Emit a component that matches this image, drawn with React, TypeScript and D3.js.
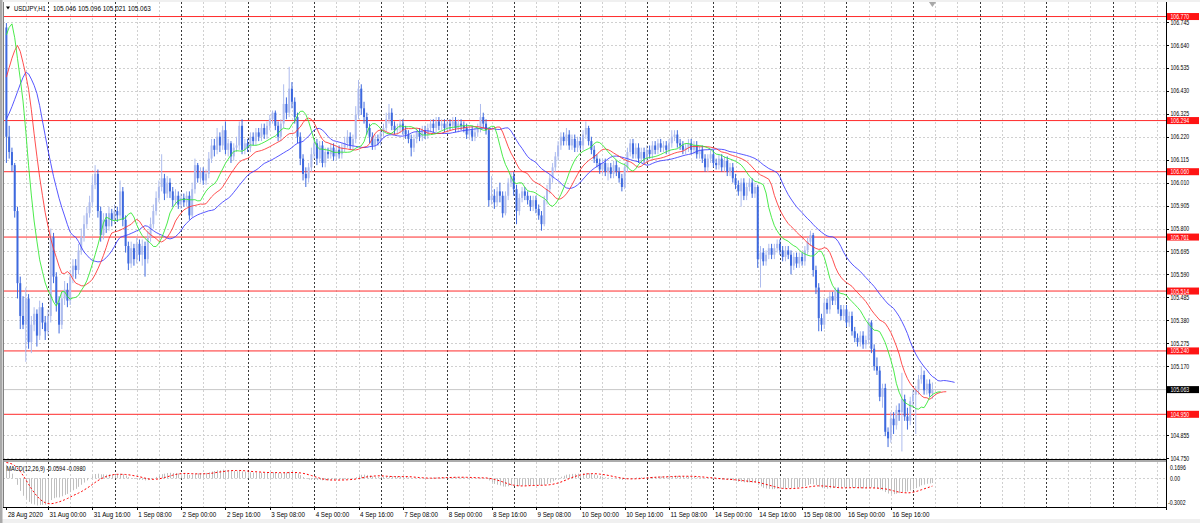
import React from "react";
import * as d3 from "d3";

const symbolTitle = "USDJPY,H1";
const lastQuote = "105.046 105.096 105.021 105.063";
const macdTitle = "MACD(12,26,9) -0.0594 -0.0980";

// H1 bars, first bar 28 Aug 09:00, last bar 17 Sep 07:00
const sessionDays = ["28 Aug", "31 Aug", "1 Sep", "2 Sep", "3 Sep", "4 Sep", "7 Sep", "8 Sep", "9 Sep", "10 Sep", "11 Sep", "14 Sep", "15 Sep", "16 Sep", "17 Sep"];
const firstBarHour = 9;
const firstYear = "2020";

const opens = [
  106.72, 106.22, 106.15, 106.09, 105.88, 105.55, 105.40, 105.36, 105.48, 105.28,
  105.36, 105.41, 105.31, 105.44, 105.37, 105.33, 105.40, 105.76, 105.58, 105.46,
  105.36, 105.48, 105.52, 105.47, 105.58, 105.63, 105.61, 105.70, 105.76, 105.82,
  105.87, 105.92, 106.00, 106.05, 105.88, 105.77, 105.84, 105.81, 105.87, 105.84,
  105.88, 105.86, 105.97, 105.84, 105.72, 105.64, 105.71, 105.66, 105.73, 105.68,
  105.72, 105.66, 105.76, 105.82, 105.88, 105.94, 105.99, 106.03, 105.96, 106.01,
  105.97, 105.93, 105.95, 105.91, 105.94, 105.92, 105.95, 105.86, 105.98, 106.09,
  106.03, 106.06, 106.02, 106.05, 106.12, 106.18, 106.16, 106.22, 106.18, 106.25,
  106.16, 106.19, 106.13, 106.17, 106.18, 106.27, 106.16, 106.19, 106.17, 106.22,
  106.20, 106.24, 106.22, 106.26, 106.23, 106.27, 106.30, 106.33, 106.27, 106.22,
  106.28, 106.37, 106.33, 106.44, 106.38, 106.31, 106.22, 106.12, 106.05, 106.03,
  106.08, 106.14, 106.19, 106.12, 106.18, 106.10, 106.15, 106.14, 106.17, 106.13,
  106.16, 106.14, 106.17, 106.19, 106.22, 106.18, 106.21, 106.32, 106.44, 106.35,
  106.31, 106.26, 106.22, 106.18, 106.21, 106.20, 106.24, 106.26, 106.30, 106.33,
  106.27, 106.25, 106.26, 106.28, 106.25, 106.23, 106.21, 106.17, 106.21, 106.24,
  106.22, 106.25, 106.23, 106.26, 106.28, 106.26, 106.29, 106.27, 106.28, 106.26,
  106.28, 106.27, 106.29, 106.26, 106.28, 106.27, 106.26, 106.23, 106.25, 106.22,
  106.24, 106.26, 106.31, 106.28, 106.25, 105.93, 105.95, 105.92, 105.97, 105.95,
  105.87, 105.95, 106.01, 106.04, 105.98, 105.88, 105.94, 105.97, 105.95, 105.93,
  105.90, 105.93, 105.89, 105.86, 105.82, 105.93, 105.98, 106.03, 106.08, 106.13,
  106.18, 106.22, 106.20, 106.23, 106.18, 106.21, 106.17, 106.20, 106.18, 106.23,
  106.26, 106.20, 106.16, 106.12, 106.10, 106.07, 106.10, 106.06, 106.08, 106.05,
  106.09, 106.06, 106.03, 105.99, 106.08, 106.15, 106.19, 106.14, 106.17, 106.12,
  106.15, 106.12, 106.16, 106.14, 106.18, 106.16, 106.19, 106.17, 106.18, 106.16,
  106.19, 106.22, 106.23, 106.19, 106.18, 106.16, 106.17, 106.19, 106.16, 106.18,
  106.14, 106.16, 106.12, 106.08, 106.12, 106.14, 106.10, 106.09, 106.12, 106.08,
  106.11, 106.06, 106.08, 106.03, 106.00, 105.97, 106.01, 105.95, 105.99, 106.01,
  105.96, 105.99, 105.66, 105.69, 105.65, 105.68, 105.71, 105.68, 105.71, 105.73,
  105.70, 105.67, 105.70, 105.68, 105.63, 105.67, 105.64, 105.67, 105.65, 105.70,
  105.74, 105.77, 105.61, 105.53, 105.39, 105.36, 105.46, 105.43, 105.49, 105.47,
  105.52, 105.43, 105.40, 105.43, 105.37, 105.40, 105.33, 105.30, 105.28, 105.31,
  105.27, 105.29, 105.37, 105.25, 105.17, 105.15, 105.03, 105.07, 104.87, 104.84,
  104.93, 104.90, 104.97, 104.96, 105.02, 104.94, 104.92, 105.01, 105.04, 105.06,
  105.11, 105.13, 105.06, 105.09, 105.046,
];

const highs = [
  106.74, 106.27, 106.17, 106.10, 105.90, 105.58, 105.49, 105.53, 105.50, 105.40,
  105.44, 105.43, 105.47, 105.46, 105.40, 105.43, 105.80, 105.78, 105.60, 105.49,
  105.51, 105.56, 105.55, 105.61, 105.66, 105.66, 105.73, 105.80, 105.86, 105.90,
  105.95, 106.04, 106.09, 106.07, 105.90, 105.87, 105.87, 105.90, 105.89, 105.91,
  105.90, 106.02, 105.99, 105.86, 105.74, 105.74, 105.73, 105.76, 105.75, 105.75,
  105.74, 105.79, 105.85, 105.91, 105.97, 106.02, 106.14, 106.05, 106.04, 106.03,
  105.99, 105.98, 105.97, 105.96, 105.96, 105.97, 105.97, 106.01, 106.12, 106.10,
  106.08, 106.08, 106.07, 106.15, 106.21, 106.21, 106.26, 106.24, 106.27, 106.29,
  106.21, 106.20, 106.19, 106.22, 106.29, 106.30, 106.21, 106.21, 106.24, 106.24,
  106.26, 106.26, 106.28, 106.28, 106.29, 106.32, 106.34, 106.34, 106.29, 106.30,
  106.46, 106.40, 106.54, 106.47, 106.40, 106.33, 106.24, 106.14, 106.08, 106.10,
  106.17, 106.21, 106.21, 106.20, 106.20, 106.17, 106.17, 106.19, 106.19, 106.18,
  106.18, 106.19, 106.22, 106.25, 106.24, 106.23, 106.36, 106.48, 106.46, 106.38,
  106.33, 106.28, 106.24, 106.23, 106.23, 106.26, 106.28, 106.33, 106.37, 106.35,
  106.29, 106.28, 106.30, 106.30, 106.27, 106.25, 106.23, 106.23, 106.26, 106.26,
  106.27, 106.27, 106.28, 106.30, 106.30, 106.31, 106.31, 106.30, 106.30, 106.30,
  106.30, 106.31, 106.31, 106.30, 106.30, 106.29, 106.28, 106.27, 106.27, 106.26,
  106.28, 106.37, 106.33, 106.30, 106.26, 106.04, 105.98, 105.99, 106.01, 105.97,
  105.97, 106.03, 106.06, 106.06, 106.00, 105.96, 105.99, 105.99, 105.97, 105.95,
  105.95, 105.95, 105.91, 105.88, 105.95, 106.00, 106.05, 106.10, 106.15, 106.20,
  106.24, 106.24, 106.26, 106.25, 106.23, 106.23, 106.22, 106.22, 106.25, 106.29,
  106.27, 106.22, 106.18, 106.14, 106.12, 106.12, 106.12, 106.10, 106.10, 106.11,
  106.11, 106.08, 106.05, 106.10, 106.17, 106.21, 106.21, 106.19, 106.19, 106.17,
  106.17, 106.18, 106.18, 106.20, 106.20, 106.21, 106.21, 106.20, 106.20, 106.21,
  106.25, 106.25, 106.25, 106.21, 106.20, 106.19, 106.21, 106.21, 106.20, 106.20,
  106.18, 106.18, 106.14, 106.14, 106.16, 106.16, 106.12, 106.14, 106.14, 106.13,
  106.13, 106.10, 106.10, 106.05, 106.02, 106.03, 106.03, 106.01, 106.03, 106.03,
  106.01, 106.00, 105.72, 105.71, 105.70, 105.73, 105.73, 105.73, 105.75, 105.75,
  105.72, 105.72, 105.72, 105.70, 105.69, 105.69, 105.69, 105.69, 105.72, 105.76,
  105.79, 105.78, 105.63, 105.55, 105.41, 105.48, 105.48, 105.51, 105.51, 105.53,
  105.53, 105.45, 105.45, 105.45, 105.42, 105.42, 105.35, 105.32, 105.33, 105.33,
  105.31, 105.39, 105.38, 105.27, 105.21, 105.17, 105.09, 105.09, 104.89, 104.96,
  104.96, 104.99, 105.00, 105.14, 105.04, 104.98, 105.03, 105.06, 105.08, 105.13,
  105.17, 105.15, 105.11, 105.11, 105.096,
];

const lows = [
  106.10, 106.12, 106.06, 105.85, 105.48, 105.34, 105.34, 105.19, 105.25, 105.23,
  105.33, 105.26, 105.29, 105.34, 105.29, 105.31, 105.37, 105.55, 105.42, 105.32,
  105.34, 105.45, 105.44, 105.45, 105.55, 105.57, 105.59, 105.68, 105.74, 105.80,
  105.85, 105.90, 105.98, 105.85, 105.74, 105.75, 105.78, 105.79, 105.81, 105.82,
  105.83, 105.84, 105.81, 105.69, 105.61, 105.62, 105.63, 105.64, 105.65, 105.63,
  105.58, 105.64, 105.74, 105.80, 105.86, 105.92, 105.97, 105.93, 105.94, 105.94,
  105.90, 105.91, 105.89, 105.89, 105.90, 105.90, 105.84, 105.85, 105.96, 106.01,
  106.01, 106.00, 106.00, 106.03, 106.10, 106.13, 106.14, 106.15, 106.16, 106.14,
  106.13, 106.10, 106.11, 106.15, 106.16, 106.14, 106.14, 106.15, 106.15, 106.18,
  106.18, 106.20, 106.20, 106.21, 106.21, 106.25, 106.28, 106.25, 106.20, 106.20,
  106.26, 106.30, 106.31, 106.35, 106.28, 106.19, 106.09, 106.02, 105.99, 106.01,
  106.06, 106.12, 106.09, 106.10, 106.08, 106.08, 106.12, 106.12, 106.11, 106.11,
  106.12, 106.12, 106.15, 106.17, 106.16, 106.16, 106.19, 106.30, 106.32, 106.28,
  106.23, 106.19, 106.16, 106.16, 106.18, 106.18, 106.22, 106.24, 106.28, 106.25,
  106.23, 106.23, 106.24, 106.23, 106.21, 106.19, 106.13, 106.15, 106.19, 106.20,
  106.20, 106.21, 106.21, 106.24, 106.24, 106.24, 106.25, 106.25, 106.24, 106.24,
  106.25, 106.25, 106.24, 106.24, 106.25, 106.24, 106.21, 106.21, 106.20, 106.20,
  106.22, 106.24, 106.26, 106.23, 105.90, 105.91, 105.89, 105.90, 105.92, 105.85,
  105.86, 105.93, 105.99, 105.95, 105.82, 105.86, 105.92, 105.93, 105.91, 105.88,
  105.88, 105.87, 105.84, 105.79, 105.81, 105.91, 105.96, 106.01, 106.06, 106.11,
  106.16, 106.18, 106.18, 106.16, 106.16, 106.15, 106.15, 106.16, 106.16, 106.21,
  106.18, 106.14, 106.10, 106.08, 106.05, 106.05, 106.04, 106.02, 106.03, 106.03,
  106.04, 106.01, 105.97, 105.98, 106.06, 106.13, 106.12, 106.12, 106.10, 106.10,
  106.10, 106.10, 106.12, 106.12, 106.14, 106.14, 106.15, 106.15, 106.14, 106.14,
  106.17, 106.20, 106.17, 106.16, 106.14, 106.14, 106.15, 106.14, 106.14, 106.12,
  106.12, 106.10, 106.06, 106.06, 106.10, 106.08, 106.07, 106.07, 106.06, 106.06,
  106.04, 106.04, 106.01, 105.98, 105.95, 105.90, 105.93, 105.93, 105.97, 105.94,
  105.94, 105.62, 105.53, 105.63, 105.63, 105.66, 105.66, 105.66, 105.69, 105.68,
  105.65, 105.65, 105.66, 105.59, 105.61, 105.62, 105.62, 105.63, 105.63, 105.68,
  105.72, 105.58, 105.50, 105.33, 105.33, 105.34, 105.41, 105.41, 105.45, 105.45,
  105.41, 105.38, 105.38, 105.35, 105.35, 105.31, 105.28, 105.26, 105.26, 105.25,
  105.25, 105.27, 105.23, 105.15, 105.13, 105.01, 104.98, 104.85, 104.80, 104.82,
  104.86, 104.88, 104.92, 104.78, 104.92, 104.88, 104.90, 104.98, 104.86, 105.04,
  105.09, 105.04, 105.04, 105.03, 105.021,
];

const closes = [
  106.22, 106.15, 106.09, 105.88, 105.55, 105.40, 105.36, 105.48, 105.28, 105.36,
  105.41, 105.31, 105.44, 105.37, 105.33, 105.40, 105.76, 105.58, 105.46, 105.36,
  105.48, 105.52, 105.47, 105.58, 105.63, 105.61, 105.70, 105.76, 105.82, 105.87,
  105.92, 106.00, 106.05, 105.88, 105.77, 105.84, 105.81, 105.87, 105.84, 105.88,
  105.86, 105.97, 105.84, 105.72, 105.64, 105.71, 105.66, 105.73, 105.68, 105.72,
  105.66, 105.76, 105.82, 105.88, 105.94, 105.99, 106.03, 105.96, 106.01, 105.97,
  105.93, 105.95, 105.91, 105.94, 105.92, 105.95, 105.86, 105.98, 106.09, 106.03,
  106.06, 106.02, 106.05, 106.12, 106.18, 106.16, 106.22, 106.18, 106.25, 106.16,
  106.19, 106.13, 106.17, 106.18, 106.27, 106.16, 106.19, 106.17, 106.22, 106.20,
  106.24, 106.22, 106.26, 106.23, 106.27, 106.30, 106.33, 106.27, 106.22, 106.28,
  106.37, 106.33, 106.44, 106.38, 106.31, 106.22, 106.12, 106.05, 106.03, 106.08,
  106.14, 106.19, 106.12, 106.18, 106.10, 106.15, 106.14, 106.17, 106.13, 106.16,
  106.14, 106.17, 106.19, 106.22, 106.18, 106.21, 106.32, 106.44, 106.35, 106.31,
  106.26, 106.22, 106.18, 106.21, 106.20, 106.24, 106.26, 106.30, 106.33, 106.27,
  106.25, 106.26, 106.28, 106.25, 106.23, 106.21, 106.17, 106.21, 106.24, 106.22,
  106.25, 106.23, 106.26, 106.28, 106.26, 106.29, 106.27, 106.28, 106.26, 106.28,
  106.27, 106.29, 106.26, 106.28, 106.27, 106.26, 106.23, 106.25, 106.22, 106.24,
  106.26, 106.31, 106.28, 106.25, 105.93, 105.95, 105.92, 105.97, 105.95, 105.87,
  105.95, 106.01, 106.04, 105.98, 105.88, 105.94, 105.97, 105.95, 105.93, 105.90,
  105.93, 105.89, 105.86, 105.82, 105.93, 105.98, 106.03, 106.08, 106.13, 106.18,
  106.22, 106.20, 106.23, 106.18, 106.21, 106.17, 106.20, 106.18, 106.23, 106.26,
  106.20, 106.16, 106.12, 106.10, 106.07, 106.10, 106.06, 106.08, 106.05, 106.09,
  106.06, 106.03, 105.99, 106.08, 106.15, 106.19, 106.14, 106.17, 106.12, 106.15,
  106.12, 106.16, 106.14, 106.18, 106.16, 106.19, 106.17, 106.18, 106.16, 106.19,
  106.22, 106.23, 106.19, 106.18, 106.16, 106.17, 106.19, 106.16, 106.18, 106.14,
  106.16, 106.12, 106.08, 106.12, 106.14, 106.10, 106.09, 106.12, 106.08, 106.11,
  106.06, 106.08, 106.03, 106.00, 105.97, 106.01, 105.95, 105.99, 106.01, 105.96,
  105.99, 105.66, 105.69, 105.65, 105.68, 105.71, 105.68, 105.71, 105.73, 105.70,
  105.67, 105.70, 105.68, 105.63, 105.67, 105.64, 105.67, 105.65, 105.70, 105.74,
  105.77, 105.61, 105.53, 105.39, 105.36, 105.46, 105.43, 105.49, 105.47, 105.52,
  105.43, 105.40, 105.43, 105.37, 105.40, 105.33, 105.30, 105.28, 105.31, 105.27,
  105.29, 105.37, 105.25, 105.17, 105.15, 105.03, 105.07, 104.87, 104.84, 104.93,
  104.90, 104.97, 104.96, 105.02, 104.94, 104.92, 105.01, 105.04, 105.06, 105.11,
  105.13, 105.06, 105.09, 105.046, 105.063,
];

// hourly prices before the first visible bar (27-28 Aug), only feed the indicators
const priorPrices = [
  105.97, 106.01, 105.99, 106.04, 106.08, 106.05, 106.11, 106.16, 106.13, 106.2,
  106.24, 106.21, 106.28, 106.33, 106.3, 106.37, 106.41, 106.39, 106.45, 106.5,
  106.53, 106.5, 106.58, 106.64, 106.72, 106.79, 106.84, 106.88, 106.86, 106.8,
];

const levelLines = [106.77, 106.294, 106.06, 105.761, 105.514, 105.24, 104.95];
const bidPrice = 105.063;
const priceTicks = [
  106.745, 106.64, 106.535, 106.43, 106.325, 106.22, 106.115, 106.01, 105.905, 105.8,
  105.695, 105.59, 105.485, 105.38, 105.275, 105.17, 105.065, 104.96, 104.855, 104.75,
];
const hiddenTicks = [105.065, 104.96];
const macdTicks = [0.1696, 0, -0.3002];
const macdTickLabels = ["0.1696", "0.00", "-0.3002"];

const W = 1200;
const H = 523;
const plotLeft = 3;
const plotRight = 1166;
const mainTop = 2;
const mainBottom = 459;
const macdTop = 462;
const macdBottom = 507;
const font = "'Liberation Sans', Arial, sans-serif";

const bullColor = "#aebcee";
const bearColor = "#3e69de";
const gridColor = "#d0d0d0";
const levelColor = "#ff2b2b";

const Txt = ({ x, y, sx = 0.78, size = 7.5, fill = "#000", children }: any) => (
  <text
    transform={`translate(${x},${y}) scale(${sx},1)`}
    fontSize={size}
    fontFamily={font}
    fill={fill}
  >
    {children}
  </text>
);

const smma = (src: number[], n: number) => {
  const out: number[] = [];
  let prev = NaN;
  src.forEach((v, i) => {
    if (i < n - 1) {
      out.push(NaN);
      return;
    }
    prev = i === n - 1 ? d3.mean(src.slice(0, n))! : (prev * (n - 1) + v) / n;
    out.push(prev);
  });
  return out;
};

const ema = (src: number[], n: number) => {
  const a = 2 / (n + 1);
  const out: number[] = [];
  src.forEach((v, i) => out.push(i === 0 ? v : out[i - 1] + a * (v - out[i - 1])));
  return out;
};

const App = () => {
  const n = Math.min(opens.length, highs.length, lows.length, closes.length);
  const x = d3.scaleLinear().domain([0, n - 1]).range([6.4, 932.4]);
  const y = d3.scaleLinear().domain([104.7455, 106.8365]).range([mainBottom, mainTop]);
  const ym = d3.scaleLinear().domain([-0.3002, 0.1696]).range([macdBottom, macdTop]);
  const lastIndex = Math.floor(x.invert(plotRight));

  // bar times
  const barTimes: { day: string; hour: number }[] = [];
  sessionDays.forEach((day, d) => {
    for (let h = d === 0 ? firstBarHour : 0; h < 24; h++) barTimes.push({ day, hour: h });
  });
  const firstMidnight = barTimes.findIndex((b) => b.hour === 0);

  const timeTicks = d3.range(0, n).filter((i) => i === 0 || (i - firstMidnight) % 16 === 0);
  const tickText = (i: number) =>
    i === 0
      ? `${barTimes[0].day} ${firstYear}`
      : `${barTimes[i].day} ${String(barTimes[i].hour).padStart(2, "0")}:00`;
  const daySeps = d3.range(firstMidnight, lastIndex + 1, 24);
  const gridCols = d3.range(firstMidnight % 8, lastIndex + 1, 8).filter((i) => !daySeps.includes(i));

  // indicators
  const P = priorPrices.length;
  const medians = [...priorPrices, ...highs.slice(0, n).map((h, i) => (h + lows[i]) / 2)];
  const allCloses = [...priorPrices, ...closes.slice(0, n)];
  const alligator = [
    { period: 13, shift: 8, color: "#3a3aff" },
    { period: 8, shift: 5, color: "#ff3030" },
    { period: 5, shift: 3, color: "#2de82d" },
  ].map((a) => {
    const s = smma(medians, a.period);
    const pts: [number, number][] = [];
    for (let k = 0; k < n + a.shift; k++) {
      const v = s[P + k - a.shift];
      if (v !== undefined && !isNaN(v)) pts.push([x(k), y(v)]);
    }
    return { ...a, d: d3.line()(pts) ?? "" };
  });

  const e12 = ema(allCloses, 12);
  const e26 = ema(allCloses, 26);
  const macdMain = allCloses.map((_, i) => e12[i] - e26[i]);
  const macdSignal = macdMain.map((_, i) => (i < 8 ? NaN : d3.mean(macdMain.slice(i - 8, i + 1))!));
  const signalPts: [number, number][] = d3.range(0, n).map((i) => [x(i), ym(macdSignal[P + i])]);

  const px = (i: number) => Math.round(x(i)) + 0.5;
  const tickY = (v: number) => Math.round(y(v)) + 0.5;

  return (
    <svg width={W} height={H} style={{ position: "absolute", left: 0, top: 0 }}>
      <defs>
        <clipPath id="mainClip">
          <rect x={plotLeft} y={mainTop} width={plotRight - plotLeft} height={mainBottom - mainTop} />
        </clipPath>
        <clipPath id="macdClip">
          <rect x={plotLeft} y={macdTop} width={plotRight - plotLeft} height={macdBottom - macdTop} />
        </clipPath>
      </defs>
      <rect width={W} height={H} fill="#fff" />
      <rect width={W} height={mainTop} fill="#f0f0f0" />
      <rect y={519} width={W} height={H - 519} fill="#f0f0f0" />
      <rect width={2.5} height={H} fill="#a9a9a9" />

      {/* grid */}
      {priceTicks.filter((v) => !hiddenTicks.includes(v)).map((v) => (
        <line key={`hg${v}`} x1={plotLeft} x2={plotRight} y1={tickY(v)} y2={tickY(v)}
          stroke={gridColor} strokeDasharray="2,2" />
      ))}
      <line x1={plotLeft} x2={plotRight} y1={Math.round(ym(0)) + 0.5} y2={Math.round(ym(0)) + 0.5}
        stroke={gridColor} strokeDasharray="2,2" />
      {gridCols.map((i) => (
        <g key={`vg${i}`}>
          <line x1={px(i)} x2={px(i)} y1={mainTop} y2={mainBottom} stroke={gridColor} strokeDasharray="2,2" />
          <line x1={px(i)} x2={px(i)} y1={macdTop} y2={macdBottom} stroke={gridColor} strokeDasharray="2,2" />
        </g>
      ))}
      {daySeps.map((i) => (
        <g key={`ds${i}`}>
          <line x1={px(i)} x2={px(i)} y1={mainTop} y2={mainBottom} stroke="#3a3a3a" strokeDasharray="2,2" />
          <line x1={px(i)} x2={px(i)} y1={macdTop} y2={macdBottom} stroke="#3a3a3a" strokeDasharray="2,2" />
        </g>
      ))}

      {/* levels */}
      <g clipPath="url(#mainClip)">
        <line x1={plotLeft} x2={plotRight} y1={y(bidPrice)} y2={y(bidPrice)} stroke="#c8c8c8" />
        {levelLines.map((v) => (
          <line key={`lv${v}`} x1={plotLeft} x2={plotRight} y1={y(v)} y2={y(v)} stroke={levelColor} />
        ))}

        {/* candles */}
        {d3.range(0, n).map((i) => {
          const o = opens[i];
          const c = closes[i];
          const col = c >= o ? bullColor : bearColor;
          const top = y(Math.max(o, c));
          const bot = y(Math.min(o, c));
          const cx = x(i);
          return (
            <g key={`c${i}`}>
              <line x1={cx} x2={cx} y1={y(highs[i])} y2={y(lows[i])} stroke={col} />
              <rect x={cx - 1} y={top} width={2} height={Math.max(1, bot - top)} fill={col} />
            </g>
          );
        })}

        {alligator.map((a) => (
          <path key={a.color} d={a.d} fill="none" stroke={a.color} strokeWidth={1} opacity={0.85} />
        ))}
      </g>

      {/* MACD */}
      <g clipPath="url(#macdClip)">
        {d3.range(0, n).map((i) => (
          <line key={`m${i}`} x1={px(i)} x2={px(i)} y1={ym(0)} y2={ym(macdMain[P + i])} stroke="#c0c0c0" />
        ))}
        <path d={d3.line()(signalPts) ?? ""} fill="none" stroke="#ff0000" strokeDasharray="2,2" />
      </g>

      {/* frames */}
      <line x1={3.5} x2={3.5} y1={mainTop} y2={macdBottom} stroke="#808080" />
      <line x1={plotRight + 0.5} x2={plotRight + 0.5} y1={mainTop} y2={macdBottom + 3} stroke="#000" />
      <line x1={plotLeft} x2={plotRight} y1={mainBottom + 0.5} y2={mainBottom + 0.5} stroke="#000" />
      <line x1={plotLeft} x2={plotRight} y1={mainBottom + 2} y2={mainBottom + 2} stroke="#909090" strokeWidth={1.5} />
      <line x1={plotLeft} x2={plotRight} y1={macdBottom + 0.5} y2={macdBottom + 0.5} stroke="#000" />

      {/* chart shift marker */}
      <polygon points={`${x(n - 1) - 3.5},${mainTop} ${x(n - 1) + 3.5},${mainTop} ${x(n - 1)},${mainTop + 5}`} fill="#a8a8a8" />

      {/* header */}
      <polygon points="6,6.5 10,6.5 8,9.5" fill="#000" />
      <Txt x={14} y={11} size={8} sx={0.74}>{symbolTitle}</Txt>
      <Txt x={53} y={11} size={8} sx={0.8}>{lastQuote}</Txt>
      <Txt x={6.5} y={470.5} size={7.5} sx={0.74}>{macdTitle}</Txt>

      {/* price axis */}
      {priceTicks.filter((v) => !hiddenTicks.includes(v)).map((v) => (
        <g key={`pt${v}`}>
          <line x1={plotRight} x2={plotRight + 3} y1={tickY(v)} y2={tickY(v)} stroke="#000" />
          <Txt x={1170.5} y={y(v) + (v === priceTicks[0] ? 3.2 : 2.6)} size={7} sx={0.74}>{v.toFixed(3)}</Txt>
        </g>
      ))}
      {levelLines.map((v) => (
        <g key={`lb${v}`}>
          <rect x={1167} y={y(v) - 3.5} width={32} height={7} fill="#ff1414" />
          <Txt x={1170.5} y={y(v) + 2.5} size={6.8} sx={0.76} fill="#fff">{v.toFixed(3)}</Txt>
        </g>
      ))}
      <rect x={1167} y={y(bidPrice) - 3.5} width={32} height={7} fill="#000" />
      <Txt x={1170.5} y={y(bidPrice) + 2.5} size={6.8} sx={0.76} fill="#fff">{bidPrice.toFixed(3)}</Txt>

      {/* MACD axis */}
      {macdTicks.map((v, k) => (
        <Txt key={`mt${k}`} x={k === 2 ? 1168 : 1170} y={Math.min(Math.max(ym(v) + 2.6, macdTop + 8), macdBottom - 2)} size={7} sx={0.74}>
          {macdTickLabels[k]}
        </Txt>
      ))}

      {/* time axis */}
      {timeTicks.map((i) => (
        <g key={`tt${i}`}>
          <line x1={px(i)} x2={px(i)} y1={macdBottom} y2={macdBottom + 3} stroke="#000" />
          <Txt x={x(i) + 1.5} y={516.5} size={7.8} sx={0.8}>{tickText(i)}</Txt>
        </g>
      ))}
    </svg>
  );
};

export default App;
